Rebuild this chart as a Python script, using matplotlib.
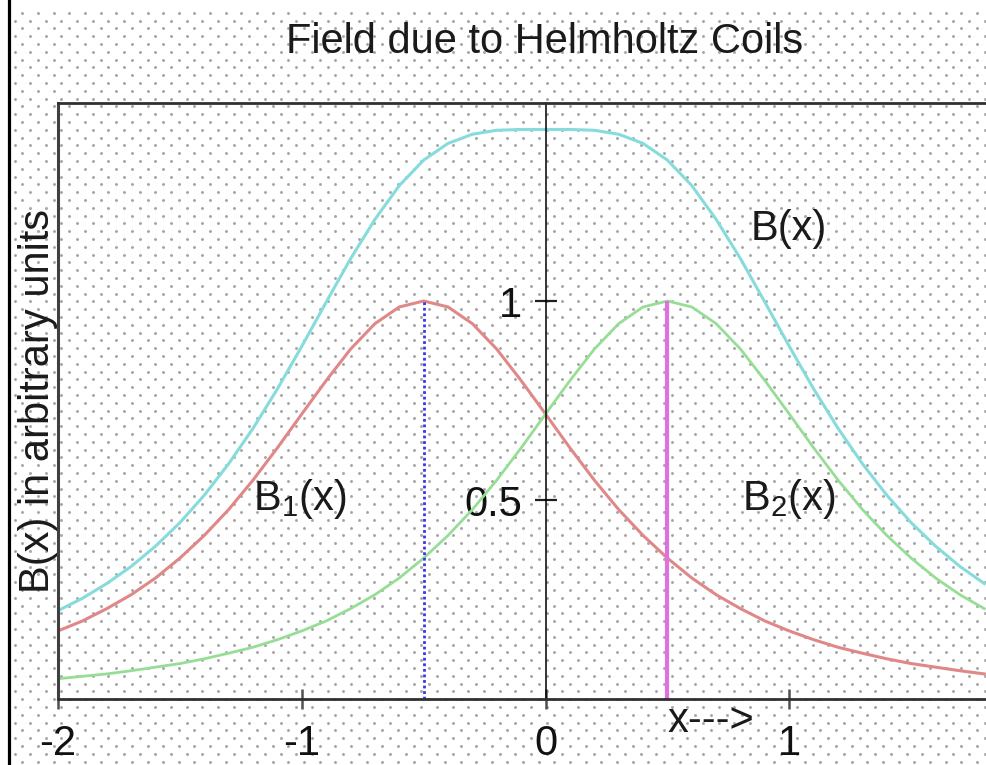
#!/usr/bin/env python3

"""Field of a pair of Helmholtz coils: B1(x), B2(x) and their sum B(x).
"""

import numpy as np
import matplotlib
matplotlib.use("Agg")
import matplotlib.pyplot as plt

plt.rcParams['font.family'] = ['Liberation Sans', 'DejaVu Sans']
plt.rcParams['mathtext.fontset'] = 'custom'
plt.rcParams['mathtext.rm'] = 'Liberation Sans'

# values, x from -2 to 1.8 in steps of 0.1
x = [-2.0, -1.9, -1.8, -1.7, -1.6, -1.5, -1.4, -1.3, -1.2, -1.1,
     -1.0, -0.9, -0.8, -0.7, -0.6, -0.5, -0.4, -0.3, -0.2, -0.1,
     0.0, 0.1, 0.2, 0.3, 0.4, 0.5, 0.6, 0.7, 0.8, 0.9,
     1.0, 1.1, 1.2, 1.3, 1.4, 1.5, 1.6, 1.7, 1.8]

b1 = [0.171, 0.196, 0.227, 0.262, 0.304, 0.354, 0.411, 0.476, 0.550, 0.631,
      0.716, 0.800, 0.879, 0.943, 0.985, 1.000, 0.985, 0.943, 0.879, 0.800,
      0.716, 0.631, 0.550, 0.476, 0.411, 0.354, 0.304, 0.262, 0.227, 0.196,
      0.171, 0.149, 0.130, 0.115, 0.101, 0.089, 0.080, 0.071, 0.063]

b2 = [0.051, 0.057, 0.063, 0.071, 0.080, 0.089, 0.101, 0.115, 0.130, 0.149,
      0.171, 0.196, 0.227, 0.262, 0.304, 0.354, 0.411, 0.476, 0.550, 0.631,
      0.716, 0.800, 0.879, 0.943, 0.985, 1.000, 0.985, 0.943, 0.879, 0.800,
      0.716, 0.631, 0.550, 0.476, 0.411, 0.354, 0.304, 0.262, 0.227]

b_total = [0.222, 0.253, 0.290, 0.333, 0.384, 0.443, 0.512, 0.591, 0.680, 0.779,
           0.886, 0.997, 1.106, 1.205, 1.290, 1.354, 1.396, 1.419, 1.429, 1.431,
           1.431, 1.431, 1.429, 1.419, 1.396, 1.354, 1.290, 1.205, 1.106, 0.997,
           0.886, 0.779, 0.680, 0.591, 0.512, 0.443, 0.384, 0.333, 0.290]

coil_x = [-0.5, 0.5]
coil_peak = [1.0, 1.0]

xticks = [-2, -1, 0, 1]
xticklabels = ["-2", "-1", "0", "1"]
yticks = [0.5, 1]
yticklabels = ["0.5", "1"]

W, H = 987, 765
fig = plt.figure(figsize=(W / 100, H / 100), dpi=100)
fig.patch.set_facecolor("white")

# dotted paper background + black bar on the left
bg = fig.add_axes([0, 0, 1, 1], zorder=0)
bg.set_xlim(0, W)
bg.set_ylim(H, 0)
bg.axis("off")
dx, dy = 15.65, 7.8
dot_x, dot_y = [], []
for j in range(int(H / dy) + 2):
    off = 22.3 if j % 2 == 0 else 14.5
    xs = np.arange(off, W + dx, dx)
    dot_x.extend(xs)
    dot_y.extend([12.7 + dy * j] * len(xs))
bg.scatter(dot_x, dot_y, s=4.5, c="#a6a6a6", linewidths=0)
bg.plot([9, 9], [0, H], color="black", lw=2.3)

# main plot
ax = fig.add_axes([58 / W, 1 - 699 / H, 1 - 58 / W, (699 - 103) / H], zorder=1)
ax.set_facecolor("none")
ax.set_xlim(-2, 1.811)
ax.set_ylim(0, 1.4975)

ax.plot(x, b_total, color="#86dcdc", lw=2.2)
ax.plot(x, b1, color="#e08888", lw=2.2)
ax.plot(x, b2, color="#96de96", lw=2.0)
ax.vlines(coil_x[0], 0, coil_peak[0], color="#3838e0", lw=2.0, linestyles=(0, (1, 1)))
ax.vlines(coil_x[1], 0, coil_peak[1], color="#e070e0", lw=3.0)

# frame: top line, x-axis, left edge, dashed centre line carries the y ticks
ax.spines["right"].set_visible(False)
ax.spines["top"].set_color("#303030")
ax.spines["top"].set_linewidth(2.0)
ax.spines["bottom"].set_color("#303030")
ax.spines["bottom"].set_linewidth(2.0)
ax.spines["left"].set_position(("data", 0))
ax.spines["left"].set_color("black")
ax.spines["left"].set_linewidth(1.1)
ax.spines["left"].set_linestyle((0, (4, 1, 1, 1)))
ax.axvline(-2, color="#404040", lw=2.2, clip_on=False)

ax.set_xticks(xticks)
ax.set_xticklabels(xticklabels)
ax.set_yticks(yticks)
ax.set_yticklabels(yticklabels)
ax.tick_params(axis="x", direction="inout", length=14, width=1.8, color="#505050",
               pad=11, labelsize=30, labelcolor="#111111")
ax.tick_params(axis="y", direction="inout", length=16, width=1.6, color="#202020",
               pad=9, labelsize=30, labelcolor="#111111")

ax.text(0.84, 1.153, "B(x)", fontsize=30, color="#1a1a1a", ha="left", va="baseline")
ax.text(-1.201, 0.475, r"B$_{\mathregular{1}}$(x)", fontsize=30, color="#1a1a1a",
        ha="left", va="baseline")
ax.text(0.807, 0.475, r"B$_{\mathregular{2}}$(x)", fontsize=30, color="#1a1a1a",
        ha="left", va="baseline")
ax.text(0.50, -0.083, "x--->", fontsize=30, color="#1a1a1a", ha="left",
        va="baseline", clip_on=False)

fig.text(545 / W, 1 - 53 / H, "Field due to Helmholtz Coils", fontsize=30,
         color="#1a1a1a", ha="center", va="baseline")
fig.text(38 / W, 1 - 401 / H, "B(x) in arbitrary units", fontsize=30,
         color="#1a1a1a", rotation=90, ha="center", va="center")

fig.savefig("out.png", dpi=100)
